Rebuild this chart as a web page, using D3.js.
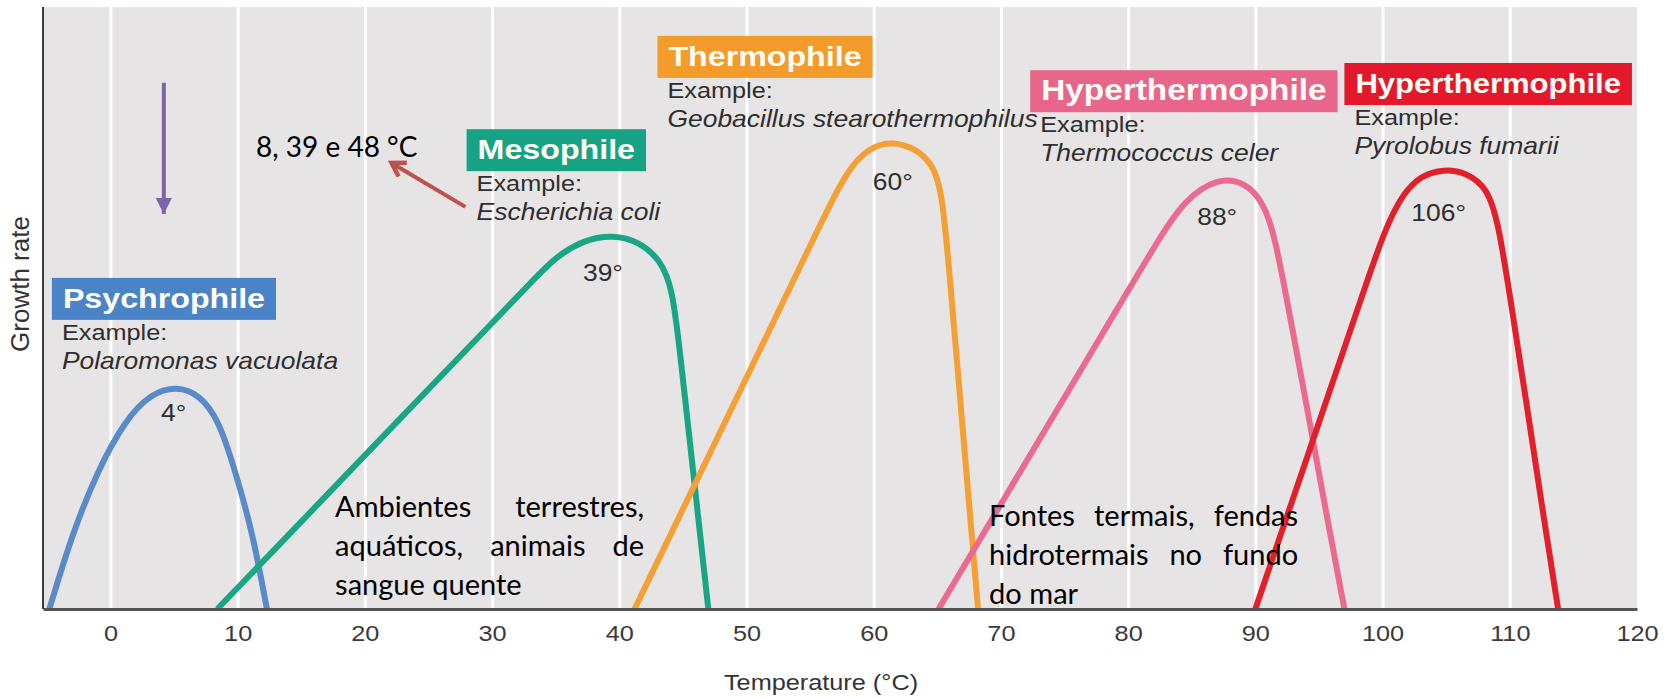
<!DOCTYPE html>
<html>
<head>
<meta charset="utf-8">
<script src="https://cdnjs.cloudflare.com/ajax/libs/d3/7.8.5/d3.min.js"></script>
<style>
  body { margin: 0; background: #fff; }
  svg { display: block; }
  .fig { font-family: "Liberation Sans", Arial, Helvetica, sans-serif; fill: #2e2e2e; }
  .slide { font-family: Lato, "Open Sans", sans-serif; fill: #000; }
</style>
</head>
<body>
<div id="chart"></div>
<script>
// Temperature ticks on the x axis
var tempTicks = [0, 10, 20, 30, 40, 50, 60, 70, 80, 90, 100, 110, 120];
var gridTicks = [0, 10, 20, 30, 40, 50, 60, 70, 80, 90, 100, 110];

// Groups, example organisms and optimum labels
var groupNames = ["Psychrophile", "Mesophile", "Thermophile", "Hyperthermophile", "Hyperthermophile"];
var exampleSpecies = ["Polaromonas vacuolata", "Escherichia coli", "Geobacillus stearothermophilus", "Thermococcus celer", "Pyrolobus fumarii"];
var optimumLabels = ["4°", "39°", "60°", "88°", "106°"];

// Growth curves: temperature (°C) and relative growth rate
var psychroTemp = [-4.8, -3.0, -1.0, 1.2, 3.2, 5.2, 7.0, 8.5, 9.8, 11.2, 12.3];
var psychroRate = [0, 12.5, 23.0, 31.5, 35.8, 37.0, 35.6, 31.5, 23.0, 12.5, 0];
var mesoTemp = [8.4, 16, 24.3, 30, 33, 35.0, 37.2, 39.5, 41.6, 43.2, 44.2, 44.9, 45.6, 46.3, 47.0];
var mesoRate = [0, 16.7, 35.0, 47.5, 54.1, 58.5, 61.3, 62.2, 61.0, 58.0, 53.5, 40.1, 26.8, 13.4, 0];
var thermoTemp = [41.2, 47, 52.6, 55.5, 56.8, 58.3, 60, 61.5, 63.2, 64.6, 65.4, 66.1, 66.8, 67.5, 68.2];
var thermoRate = [0, 25.3, 49.8, 62.5, 68.2, 74.0, 77.0, 77.6, 76.6, 74.0, 69.5, 52.1, 34.8, 17.4, 0];
var hyperTemp = [65.1, 73.85, 79.5, 82.6, 84.4, 87.0, 89.3, 90.6, 91.5, 92.9, 94.25, 95.6, 97.0];
var hyperRate = [0, 31.1, 51.1, 62.1, 67.8, 71.7, 70.8, 67.5, 62.5, 46.6, 31.3, 15.6, 0];
var pyroTemp = [90.0, 95.1, 98.5, 100.2, 101.6, 103.0, 104.8, 106.6, 108.2, 109.1, 110.3, 111.45, 112.6, 113.8];
var pyroRate = [0, 31.6, 52.7, 63.2, 69.0, 72.0, 73.1, 72.5, 70.0, 64.5, 48.0, 32.3, 16.1, 0];

// Portuguese notes added on the slide
var noteTemps = "8, 39 e 48 °C";
var noteMeso = ["Ambientes terrestres,", "aquáticos, animais de", "sangue quente"];
var noteHyper = ["Fontes termais, fendas", "hidrotermais no fundo", "do mar"];

// Colours
var lineColors = ["#5a8bc9", "#19a684", "#f4a035", "#ea6b8f", "#e1202c"];
var boxColors = ["#4a84c6", "#16a383", "#f39b2b", "#e8668b", "#e3192b"];

// Define SVG area dimensions
var svgWidth = 1668;
var svgHeight = 698;

var chartMargin = { top: 7, right: 31, bottom: 89, left: 43 };
var chartWidth = svgWidth - chartMargin.left - chartMargin.right;
var chartHeight = svgHeight - chartMargin.top - chartMargin.bottom;

// the figure text looks stretched sideways
var stretch = 1.15;

var svg = d3.select("#chart")
    .append("svg")
    .attr("width", svgWidth)
    .attr("height", svgHeight);

var chartGroup = svg.append("g")
    .attr("transform", `translate(${chartMargin.left}, ${chartMargin.top})`);

var xScale = d3.scaleLinear()
    .domain([-5.3, 120])
    .range([0, chartWidth]);

var yScale = d3.scaleLinear()
    .domain([0, 100])
    .range([chartHeight, 0]);

// plot background
chartGroup.append("rect")
    .attr("width", chartWidth)
    .attr("height", chartHeight)
    .attr("fill", "#e6e4e5");

// white vertical grid lines
chartGroup.append("g")
    .attr("transform", `translate(0, ${chartHeight})`)
    .call(d3.axisBottom(xScale).tickValues(gridTicks).tickSize(-chartHeight).tickFormat(""))
    .call(g => g.select(".domain").remove())
    .call(g => g.selectAll("line").attr("stroke", "#fff").attr("stroke-width", 3));

// text helper: place a figure text with the sideways stretch
function figText(parent, x, y, txt, size, opts) {
  opts = opts || {};
  var t = parent.append("text")
      .attr("class", "fig")
      .attr("transform", `translate(${x}, ${y}) scale(${stretch}, 1)`)
      .attr("font-size", size)
      .attr("font-weight", opts.weight || "normal")
      .attr("font-style", opts.style || "normal")
      .attr("text-anchor", opts.anchor || "start")
      .text(txt);
  if (opts.fill) t.style("fill", opts.fill);
  return t;
}

// growth curves
var curveSets = [
  d3.zip(psychroTemp, psychroRate),
  d3.zip(mesoTemp, mesoRate),
  d3.zip(thermoTemp, thermoRate),
  d3.zip(hyperTemp, hyperRate),
  d3.zip(pyroTemp, pyroRate)
];

var lineGen = d3.line()
    .x(d => xScale(d[0]))
    .y(d => yScale(d[1]))
    .curve(d3.curveBasis);

chartGroup.selectAll("path.growth")
    .data(curveSets)
    .enter()
    .append("path")
    .attr("class", "growth")
    .attr("d", lineGen)
    .attr("fill", "none")
    .attr("stroke", (d, i) => lineColors[i])
    .attr("stroke-width", 6);

// optimum labels under each peak
var peakDx = [-3, -10, 0, 0, -5];
var peakDy = [35, 46, 48, 48, 52];
curveSets.forEach(function(pts, i) {
  var peak = pts.reduce((a, b) => (b[1] > a[1] ? b : a));
  figText(chartGroup, xScale(peak[0]) + peakDx[i], yScale(peak[1]) + peakDy[i], optimumLabels[i], 23, { anchor: "middle" });
});

// group label boxes (top-left corner in data units)
var labelAnchors = [[-4.6, 55.0], [28.0, 79.7], [43.0, 95.2], [72.3, 89.5], [97.0, 90.7]];
var titleSizes = [28, 28, 28, 29, 27];

groupNames.forEach(function(name, i) {
  var bx = xScale(labelAnchors[i][0]);
  var by = yScale(labelAnchors[i][1]);
  var box = chartGroup.append("rect")
      .attr("x", bx)
      .attr("y", by)
      .attr("height", 42)
      .attr("fill", boxColors[i]);
  var title = figText(chartGroup, bx + 11, by + 30, name, titleSizes[i], { weight: "bold", fill: "#fffdf6" });
  var w = title.node().getComputedTextLength() * stretch;
  box.attr("width", w + 22);
  figText(chartGroup, bx + 10, by + 62, "Example:", 22);
  figText(chartGroup, bx + 10, by + 91, exampleSpecies[i], 23, { style: "italic" });
});

// axes lines
chartGroup.append("line")
    .attr("x1", 0).attr("x2", 0)
    .attr("y1", 0).attr("y2", chartHeight)
    .attr("stroke", "#3a3a3a")
    .attr("stroke-width", 2);

var xAxis = d3.axisBottom(xScale)
    .tickValues(tempTicks)
    .tickSize(0)
    .tickPadding(16)
    .tickSizeOuter(0);

chartGroup.append("g")
    .attr("transform", `translate(0, ${chartHeight})`)
    .call(xAxis)
    .call(g => g.select(".domain").attr("stroke", "#555").attr("stroke-width", 3))
    .call(g => g.selectAll("text")
        .attr("class", "fig")
        .attr("font-size", 22)
        .style("fill", "#3a3a3a")
        .attr("transform", `scale(${stretch}, 1)`));

// axis titles
svg.append("text")
    .attr("class", "fig")
    .attr("transform", "translate(29, 284) rotate(-90)")
    .attr("text-anchor", "middle")
    .attr("font-size", 26)
    .style("fill", "#333")
    .text("Growth rate");

figText(svg, 821, 690, "Temperature (°C)", 22, { anchor: "middle", fill: "#333" });

// slide annotations: arrows
var defs = svg.append("defs");
defs.append("marker")
    .attr("id", "headPurple")
    .attr("markerUnits", "userSpaceOnUse")
    .attr("viewBox", "0 0 16 16")
    .attr("refX", 16).attr("refY", 8)
    .attr("markerWidth", 16).attr("markerHeight", 16)
    .attr("orient", "auto")
    .append("path")
    .attr("d", "M0,0 L16,8 L0,16 Z")
    .attr("fill", "#7f63a8");

defs.append("marker")
    .attr("id", "headRed")
    .attr("markerUnits", "userSpaceOnUse")
    .attr("viewBox", "0 0 20 20")
    .attr("refX", 16).attr("refY", 10)
    .attr("markerWidth", 20).attr("markerHeight", 20)
    .attr("orient", "auto")
    .append("path")
    .attr("d", "M3,2 L16,10 L3,18")
    .attr("fill", "none")
    .attr("stroke", "#c0504d")
    .attr("stroke-width", 4.5);

chartGroup.append("line")
    .attr("x1", xScale(4.2)).attr("y1", yScale(87.4))
    .attr("x2", xScale(4.2)).attr("y2", yScale(65.6))
    .attr("stroke", "#7f63a8")
    .attr("stroke-width", 4)
    .attr("marker-end", "url(#headPurple)");

chartGroup.append("line")
    .attr("x1", xScale(27.9)).attr("y1", yScale(66.8))
    .attr("x2", xScale(22.1)).attr("y2", yScale(74.1))
    .attr("stroke", "#c0504d")
    .attr("stroke-width", 4)
    .attr("marker-end", "url(#headRed)");

chartGroup.append("text")
    .attr("class", "slide")
    .attr("x", xScale(11.45))
    .attr("y", yScale(75.1))
    .attr("font-size", 28)
    .text(noteTemps);

// justified text blocks
var blockSize = 29;
var blockStep = 39;

function drawBlock(lines, t0, t1, g0) {
  var x0 = xScale(t0), x1 = xScale(t1), y0 = yScale(g0);
  lines.forEach(function(line, i) {
    var words = line.split(" ");
    var y = y0 + i * blockStep;
    var nodes = words.map(w => chartGroup.append("text")
        .attr("class", "slide")
        .attr("font-size", blockSize)
        .attr("y", y)
        .text(w));
    var widths = nodes.map(n => n.node().getComputedTextLength());
    var last = i === lines.length - 1;
    var gap = last ? blockSize * 0.26 : (x1 - x0 - d3.sum(widths)) / (words.length - 1);
    var x = x0;
    nodes.forEach(function(n, j) {
      n.attr("x", x);
      x += widths[j] + gap;
    });
  });
}

drawBlock(noteMeso, 17.66, 41.95, 15.3);
drawBlock(noteHyper, 69.07, 93.36, 13.8);
</script>
</body>
</html>
